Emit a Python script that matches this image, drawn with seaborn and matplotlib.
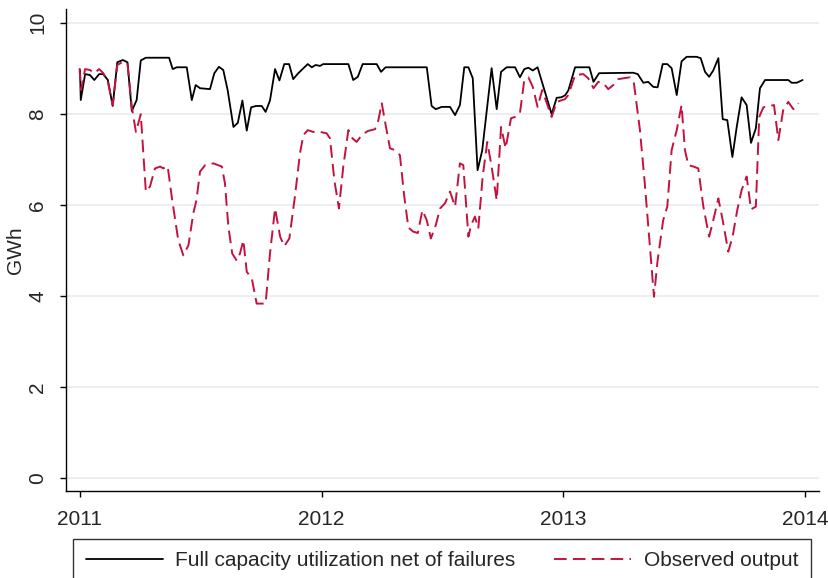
import matplotlib
matplotlib.use("Agg")
import matplotlib.pyplot as plt
import numpy as np
import pandas as pd
import seaborn as sns

# ---------------- data ----------------
full_year = [2011.002, 2011.005, 2011.023, 2011.043, 2011.061, 2011.081, 2011.098, 2011.117,
             2011.137, 2011.156, 2011.179, 2011.198, 2011.216, 2011.236, 2011.253, 2011.274,
             2011.370, 2011.385, 2011.402, 2011.443, 2011.464, 2011.480, 2011.498, 2011.539,
             2011.557, 2011.576, 2011.594, 2011.612, 2011.636, 2011.654, 2011.673, 2011.691,
             2011.709, 2011.729, 2011.753, 2011.769, 2011.787, 2011.808, 2011.826, 2011.846,
             2011.866, 2011.883, 2011.904, 2011.943, 2011.960, 2011.976, 2011.994, 2012.007,
             2012.111, 2012.131, 2012.150, 2012.170, 2012.228, 2012.246, 2012.265, 2012.435,
             2012.455, 2012.472, 2012.497, 2012.531, 2012.552, 2012.572, 2012.590, 2012.607,
             2012.625, 2012.645, 2012.664, 2012.703, 2012.724, 2012.742, 2012.765, 2012.800,
             2012.820, 2012.838, 2012.855, 2012.873, 2012.893, 2012.951, 2012.972, 2012.990,
             2013.006, 2013.020, 2013.048, 2013.107, 2013.124, 2013.147, 2013.288, 2013.307,
             2013.330, 2013.350, 2013.371, 2013.389, 2013.410, 2013.429, 2013.447, 2013.468,
             2013.488, 2013.509, 2013.550, 2013.567, 2013.585, 2013.602, 2013.619, 2013.640,
             2013.658, 2013.677, 2013.698, 2013.716, 2013.736, 2013.757, 2013.775, 2013.795,
             2013.812, 2013.833, 2013.929, 2013.943, 2013.964, 2013.988]
full_gwh = [8.96, 8.30, 8.87, 8.85, 8.74, 8.87, 8.87, 8.74,
            8.17, 9.13, 9.18, 9.13, 8.06, 8.30, 9.17, 9.23,
            9.23, 8.98, 9.02, 9.02, 8.30, 8.63, 8.56, 8.54,
            8.89, 9.03, 8.96, 8.52, 7.71, 7.80, 8.29, 7.63,
            8.14, 8.17, 8.17, 8.04, 8.29, 8.98, 8.73, 9.09,
            9.09, 8.76, 8.89, 9.09, 9.02, 9.07, 9.05, 9.09,
            9.09, 8.74, 8.81, 9.09, 9.09, 8.92, 9.02, 9.02,
            8.17, 8.10, 8.15, 8.15, 7.97, 8.19, 9.02, 9.02,
            8.78, 6.76, 7.19, 9.00, 8.10, 8.92, 9.02, 9.02,
            8.80, 8.98, 9.01, 8.95, 9.02, 7.99, 8.35, 8.36,
            8.40, 8.51, 9.02, 9.02, 8.70, 8.89, 8.90, 8.87,
            8.68, 8.70, 8.59, 8.58, 9.09, 9.09, 9.00, 8.41,
            9.15, 9.25, 9.25, 9.22, 8.92, 8.81, 8.95, 9.22,
            7.88, 7.86, 7.05, 7.71, 8.36, 8.19, 7.36, 7.68,
            8.56, 8.74, 8.74, 8.68, 8.68, 8.74]

obs_year = [2011.000, 2011.006, 2011.023, 2011.043, 2011.061, 2011.081, 2011.098, 2011.117,
            2011.137, 2011.156, 2011.179, 2011.198, 2011.216, 2011.233, 2011.253, 2011.274,
            2011.291, 2011.312, 2011.333, 2011.346, 2011.364, 2011.383, 2011.408, 2011.429,
            2011.450, 2011.470, 2011.483, 2011.498, 2011.519, 2011.553, 2011.588, 2011.601,
            2011.615, 2011.631, 2011.650, 2011.663, 2011.677, 2011.691, 2011.712, 2011.732,
            2011.769, 2011.787, 2011.808, 2011.829, 2011.846, 2011.867, 2011.890, 2011.911,
            2011.925, 2011.943, 2011.966, 2011.994, 2012.021, 2012.035, 2012.053, 2012.072,
            2012.090, 2012.111, 2012.128, 2012.145, 2012.166, 2012.191, 2012.221, 2012.235,
            2012.249, 2012.265, 2012.283, 2012.304, 2012.324, 2012.342, 2012.359, 2012.379,
            2012.398, 2012.417, 2012.435, 2012.452, 2012.472, 2012.490, 2012.510, 2012.531,
            2012.552, 2012.572, 2012.586, 2012.607, 2012.618, 2012.634, 2012.648, 2012.666,
            2012.685, 2012.703, 2012.724, 2012.742, 2012.761, 2012.783, 2012.800, 2012.820,
            2012.838, 2012.855, 2012.873, 2012.893, 2012.912, 2012.951, 2012.972, 2013.006,
            2013.020, 2013.048, 2013.082, 2013.102, 2013.124, 2013.144, 2013.165, 2013.185,
            2013.206, 2013.226, 2013.275, 2013.291, 2013.316, 2013.336, 2013.357, 2013.374,
            2013.389, 2013.412, 2013.429, 2013.447, 2013.468, 2013.488, 2013.502, 2013.516,
            2013.537, 2013.557, 2013.578, 2013.602, 2013.619, 2013.640, 2013.658, 2013.681,
            2013.699, 2013.718, 2013.736, 2013.757, 2013.775, 2013.795, 2013.809, 2013.826,
            2013.850, 2013.870, 2013.888, 2013.908, 2013.929, 2013.950, 2013.971]
obs_gwh = [9.00, 8.52, 8.98, 8.96, 8.89, 8.98, 8.89, 8.70,
           8.19, 9.07, 9.14, 9.11, 8.15, 7.60, 7.99, 6.29,
           6.40, 6.80, 6.84, 6.80, 6.85, 6.10, 5.22, 4.89,
           5.11, 5.81, 6.10, 6.73, 6.87, 6.91, 6.84, 6.47,
           5.52, 4.93, 4.77, 4.93, 5.22, 4.53, 4.38, 3.83,
           3.83, 4.93, 5.92, 5.30, 5.09, 5.26, 6.18, 7.13,
           7.53, 7.64, 7.60, 7.60, 7.57, 7.46, 6.54, 5.92,
           6.84, 7.64, 7.46, 7.38, 7.53, 7.62, 7.66, 7.86,
           8.23, 7.75, 7.24, 7.20, 7.09, 6.18, 5.50, 5.41,
           5.38, 5.88, 5.66, 5.26, 5.55, 5.92, 6.03, 6.29,
           5.96, 6.91, 6.87, 5.30, 5.55, 5.74, 5.48, 6.62,
           7.38, 6.84, 6.10, 7.71, 7.24, 7.90, 7.93, 8.01,
           8.74, 8.80, 8.59, 8.15, 8.52, 7.93, 8.26, 8.32,
           8.41, 8.85, 8.87, 8.78, 8.56, 8.70, 8.67, 8.54,
           8.63, 8.76, 8.80, 8.67, 7.64, 6.47, 5.08, 3.98,
           4.78, 5.66, 5.96, 7.20, 7.64, 8.19, 7.20, 6.87,
           6.84, 6.80, 5.96, 5.30, 5.66, 6.14, 5.66, 4.97,
           5.30, 5.88, 6.32, 6.62, 5.90, 5.96, 7.93, 8.14,
           8.17, 8.19, 7.42, 8.08, 8.26, 8.10, 8.23]

series_labels = ["Full capacity utilization net of failures", "Observed output"]
year_ticks = [2011, 2012, 2013, 2014]
gwh_ticks = [0, 2, 4, 6, 8, 10]
y_label = "GWh"

# ---------------- styling ----------------
RED = "#c4123f"
sns.set_style("white")
plt.rcParams['font.family'] = ['Liberation Sans', 'DejaVu Sans']
FS = 15

W, H = 829, 578
fig = plt.figure(figsize=(W / 100, H / 100), dpi=100)
ax = fig.add_axes([66 / W, 1 - 491 / H, (819 - 66) / W, (491 - 9) / H])

df_full = pd.DataFrame({"year": full_year, "GWh": full_gwh})
df_obs = pd.DataFrame({"year": obs_year, "GWh": obs_gwh})

sns.lineplot(data=df_full, x="year", y="GWh", ax=ax, color="black", lw=1.3,
             label=series_labels[0], sort=False, estimator=None)
sns.lineplot(data=df_obs, x="year", y="GWh", ax=ax, color=RED, lw=1.4,
             label=series_labels[1], sort=False, estimator=None)
ax.lines[1].set_dashes((6.5, 3.2))

ax.set_xlim(2010.944, 2014.056)
ax.set_ylim(-0.286, 10.3)

ax.set_yticks(gwh_ticks)
ax.set_yticklabels([str(t) for t in gwh_ticks], rotation=90, va="center", fontsize=FS)
ax.set_xticks(year_ticks)
ax.set_xticklabels([str(t) for t in year_ticks], fontsize=FS)
ax.tick_params(axis="both", which="major", direction="out", length=4.5, width=1,
               color="black", bottom=True, left=True)
ax.tick_params(axis="x", pad=9)
ax.tick_params(axis="y", pad=9)

ax.grid(False)
for t in gwh_ticks:
    ax.axhline(t, color="#e6eef0", lw=1.2, zorder=0)

for s in ["top", "right"]:
    ax.spines[s].set_visible(False)
for s in ["left", "bottom"]:
    ax.spines[s].set_color("black")
    ax.spines[s].set_linewidth(1.0)

ax.set_xlabel("")
ax.set_ylabel(y_label, fontsize=FS)
ax.yaxis.label.set_va("center")
ax.yaxis.set_label_coords((15 - 66) / (819 - 66), 0.5)

handles, labels = ax.get_legend_handles_labels()
ax.get_legend().remove()
leg = fig.legend(handles, labels, loc="upper left",
                 bbox_to_anchor=(73 / W, 1 - 539 / H, (811 - 73) / W, 0),
                 mode="expand", ncol=2, frameon=True, fancybox=False,
                 edgecolor="black", fontsize=FS, handlelength=3.7,
                 handletextpad=0.6, borderpad=0.6, borderaxespad=0.0)
leg.get_frame().set_linewidth(1.0)

fig.savefig("out.png", dpi=100)
